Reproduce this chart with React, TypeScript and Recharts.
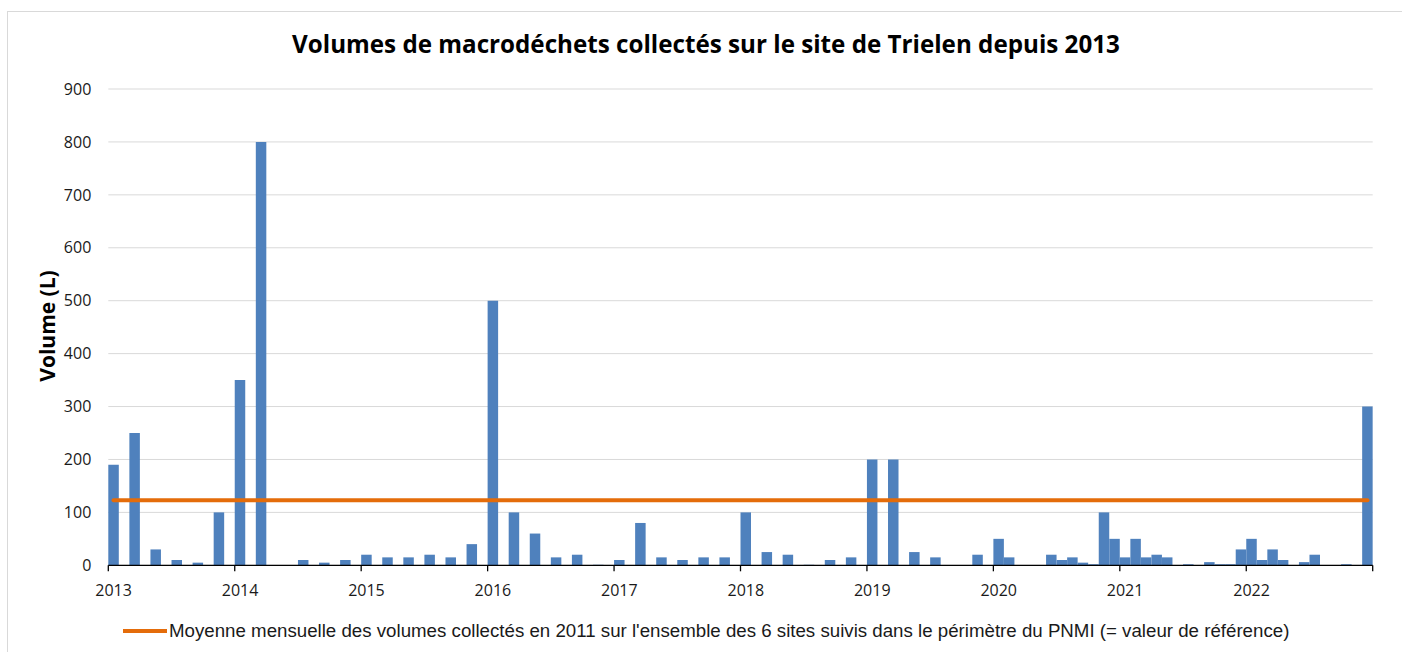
import { Bar, CartesianGrid, ComposedChart, Line, XAxis, YAxis } from 'recharts';

// Macro-waste volumes collected at Trielen, one slot per month from Jan 2013
// to Dec 2022. null = no collection that month.
const YEAR_LABELS = ['2013', '2014', '2015', '2016', '2017', '2018', '2019', '2020', '2021', '2022'];

const VOL_2013 = [190, null, 250, null, 30, null, 10, null, 5, null, 100, null];
const VOL_2014 = [350, null, 800, null, null, null, 10, null, 5, null, 10, null];
const VOL_2015 = [20, null, 15, null, 15, null, 20, null, 15, null, 40, null];
const VOL_2016 = [500, null, 100, null, 60, null, 15, null, 20, null, 1, null];
const VOL_2017 = [10, null, 80, null, 15, null, 10, null, 15, null, 15, null];
const VOL_2018 = [100, null, 25, null, 20, null, 1, null, 10, null, 15, null];
const VOL_2019 = [200, null, 200, null, 25, null, 15, null, null, null, 20, null];
const VOL_2020 = [50, 15, null, null, null, 20, 10, 15, 5, 2, 100, 50];
const VOL_2021 = [15, 50, 15, 20, 15, null, 2, null, 6, 2, 2, 30];
const VOL_2022 = [50, 10, 30, 10, null, 6, 20, null, null, 2, null, 300];

const VOLUMES = [VOL_2013, VOL_2014, VOL_2015, VOL_2016, VOL_2017, VOL_2018, VOL_2019, VOL_2020, VOL_2021, VOL_2022];

// 2011 monthly mean over the 6 PNMI sites (reference value)
const REFERENCE_VALUE = 123;

const Y_TICKS = [0, 100, 200, 300, 400, 500, 600, 700, 800, 900];

const TITLE = 'Volumes de macrodéchets collectés sur le site de Trielen depuis 2013';
const Y_LABEL = 'Volume (L)';
const LEGEND_LABEL =
  "Moyenne mensuelle des volumes collectés en 2011 sur l'ensemble des 6 sites suivis dans le périmètre du PNMI (= valeur de référence)";

const SLOTS = YEAR_LABELS.length * 12;
const YEAR_TICKS = [...YEAR_LABELS.map((_, i) => i * 12), SLOTS];

const rows = YEAR_LABELS.flatMap((year, yi) =>
  VOLUMES[yi].map((v, m) => ({
    slot: yi * 12 + m + 0.5,
    month: `${year}-${String(m + 1).padStart(2, '0')}`,
    volume: v,
    reference: REFERENCE_VALUE,
  })),
);

const BLUE = '#4F81BD';
const ORANGE = '#E46C0A';
const TICK_FONT = '"Open Sans", sans-serif';

function YearTick({ x, y, payload }: { x?: number; y?: number; payload?: { value: number } }) {
  const idx = Math.round((payload?.value ?? 0) / 12);
  const label = YEAR_LABELS[idx];
  if (!label) return null;
  // Excel centres the year on the first month of the year
  return (
    <text
      x={(x ?? 0) + 5.3}
      y={y}
      dy="0.71em"
      textAnchor="middle"
      fontFamily={TICK_FONT}
      fontSize={16}
      fill="#1a1a1a"
    >
      {label}
    </text>
  );
}

export default function App() {
  return (
    <div
      style={{
        position: 'fixed',
        left: 0,
        top: 0,
        width: 1402,
        height: 652,
        overflow: 'hidden',
        background: '#fff',
      }}
    >
      <div
        style={{
          position: 'absolute',
          left: 7,
          top: 11,
          width: 1500,
          height: 700,
          border: '1px solid #d9d9d9',
        }}
      />
      <div
        style={{
          position: 'absolute',
          left: 0,
          width: 1412,
          top: 29,
          textAlign: 'center',
          fontFamily: TICK_FONT,
          fontWeight: 700,
          fontSize: 24.2,
          color: '#000',
          lineHeight: '30px',
          whiteSpace: 'nowrap',
        }}
      >
        {TITLE}
      </div>
      <div
        style={{
          position: 'absolute',
          left: 47,
          top: 326,
          transform: 'translate(-50%, -50%) rotate(-90deg)',
          whiteSpace: 'nowrap',
          fontFamily: TICK_FONT,
          fontWeight: 700,
          fontSize: 21,
          color: '#000',
        }}
      >
        {Y_LABEL}
      </div>

      <div style={{ position: 'absolute', left: 0, top: 0 }}>
        <ComposedChart
          width={1402}
          height={652}
          data={rows}
          margin={{ top: 89, right: 29.3, bottom: 56.7, left: 48.3 }}
        >
          <CartesianGrid vertical={false} stroke="#d9d9d9" strokeWidth={1} />
          <XAxis
            dataKey="slot"
            type="number"
            domain={[0, SLOTS]}
            ticks={YEAR_TICKS}
            interval={0}
            height={30}
            tickSize={6}
            tickMargin={13.7}
            tick={<YearTick />}
            axisLine={{ stroke: '#000', strokeWidth: 1.3 }}
            tickLine={{ stroke: '#000', strokeWidth: 1.3 }}
          />
          <YAxis
            type="number"
            domain={[0, 900]}
            ticks={Y_TICKS}
            interval={0}
            width={60}
            axisLine={false}
            tickLine={false}
            tickSize={0}
            tickMargin={17}
            tick={{ fontFamily: TICK_FONT, fontSize: 16, fill: '#1a1a1a' }}
          />
          <Bar dataKey="volume" fill={BLUE} barSize={10.5} isAnimationActive={false} />
          <Line
            dataKey="reference"
            type="linear"
            stroke={ORANGE}
            strokeWidth={4}
            strokeLinecap="round"
            dot={false}
            activeDot={false}
            isAnimationActive={false}
          />
        </ComposedChart>
      </div>

      <div
        style={{
          position: 'absolute',
          left: 123,
          top: 619,
          display: 'flex',
          alignItems: 'center',
          whiteSpace: 'nowrap',
          fontFamily: '"Liberation Sans", Arial, sans-serif',
          fontSize: 18.7,
          color: '#1a1a1a',
          lineHeight: '24px',
        }}
      >
        <span style={{ display: 'inline-block', width: 44, height: 4, background: ORANGE, marginRight: 2 }} />
        {LEGEND_LABEL}
      </div>
    </div>
  );
}
